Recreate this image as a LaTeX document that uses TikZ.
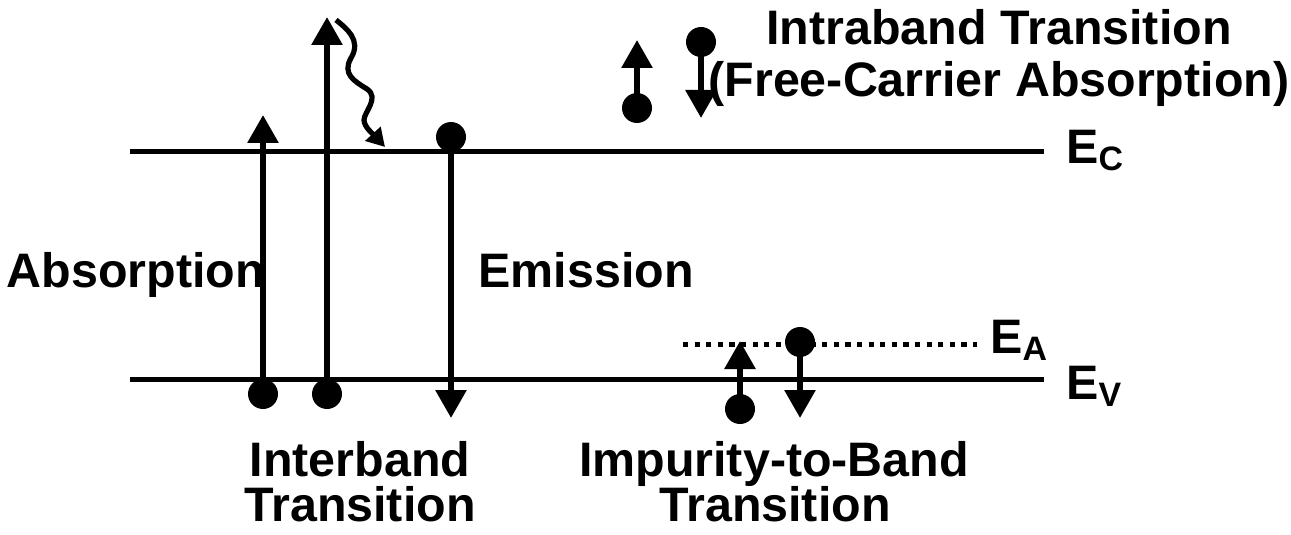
\documentclass[tikz,border=0pt]{standalone}
\usepackage{fontspec}
\setmainfont{Liberation Sans}
\usetikzlibrary{arrows.meta}

\begin{document}
\begin{tikzpicture}[x=0.5pt, y=-0.5pt,
    dot/.style = {circle, fill, inner sep=0pt, minimum size=15pt},
    arr/.style = {line width=3pt, -{Triangle[length=14pt,width=15pt]}},
    level/.style = {line width=2.5pt},
    lbl/.style = {font=\fontsize{24.2}{28}\selectfont\bfseries, anchor=base, inner sep=0pt}]
        \useasboundingbox (0,0) rectangle (1291,535);
        % band edges
        \coordinate (ecL) at (130,152);
        \coordinate (ecR) at (1044,152);
        \coordinate (evL) at (130,379);
        \coordinate (evR) at (1044,379);
        \coordinate (eaL) at (683,344);
        \coordinate (eaR) at (977,344);
        \draw[level] (ecL) -- (ecR);
        \draw[level] (evL) -- (evR);
        \draw[line width=2.5pt, dash pattern=on 2.6pt off 3.2pt] (eaL) -- (eaR);
        \node[lbl, anchor=base west] (ec) at (1066,163) {E\textsubscript{C}};
        \node[lbl, anchor=base west] (ev) at (1066,399) {E\textsubscript{V}};
        \node[lbl, anchor=base west] (ea) at (990,353) {E\textsubscript{A}};
        % carriers
        \node[dot] (abs1) at (263,394) {};
        \node[dot] (abs2) at (327,394) {};
        \node[dot] (emi) at (451,137) {};
        \node[dot] (intra1) at (637,108) {};
        \node[dot] (intra2) at (701,42) {};
        \node[dot] (imp1) at (740,409) {};
        \node[dot] (imp2) at (800,342) {};
        \coordinate (abs1top) at (263,115);
        \coordinate (abs2top) at (327,17);
        \coordinate (emibot) at (451,418);
        \coordinate (intra1top) at (637,40);
        \coordinate (intra2bot) at (701,118);
        \coordinate (imp1top) at (740,341);
        \coordinate (imp2bot) at (800,418);
        \draw[arr] (abs1.center) -- (abs1top);
        \draw[arr] (abs2.center) -- (abs2top);
        \draw[arr] (emi.center) -- (emibot);
        \draw[arr] (intra1.center) -- (intra1top);
        \draw[arr] (intra2.center) -- (intra2bot);
        \draw[arr] (imp1.center) -- (imp1top);
        \draw[arr] (imp2.center) -- (imp2bot);
        % relaxation
        \coordinate (ph) at (336,20);
        \coordinate (phend) at (385,147);
        \draw[line width=2.6pt, -{Triangle[length=9pt,width=10pt]}] (ph)
          .. controls (346,28) and (362,40) .. (351,58)
          .. controls (342,74) and (354,81) .. (367,89)
          .. controls (380,98) and (364,112) .. (364,120)
          .. controls (364,127) and (374,135) .. (phend);
        % labels
        \node[lbl] (intra) at (999,45) {Intraband Transition};
        \node[lbl] (fca) at (999,97) {(Free-Carrier Absorption)};
        \node[lbl] (absl) at (136,287) {Absorption};
        \node[lbl] (emil) at (586,287) {Emission};
        \node[lbl] (inter) at (360,476) {Interband};
        \node[lbl] (intert) at (360,521) {Transition};
        \node[lbl] (impl) at (774,476) {Impurity-to-Band};
        \node[lbl] (implt) at (775,521) {Transition};
      \end{tikzpicture}
\end{document}
